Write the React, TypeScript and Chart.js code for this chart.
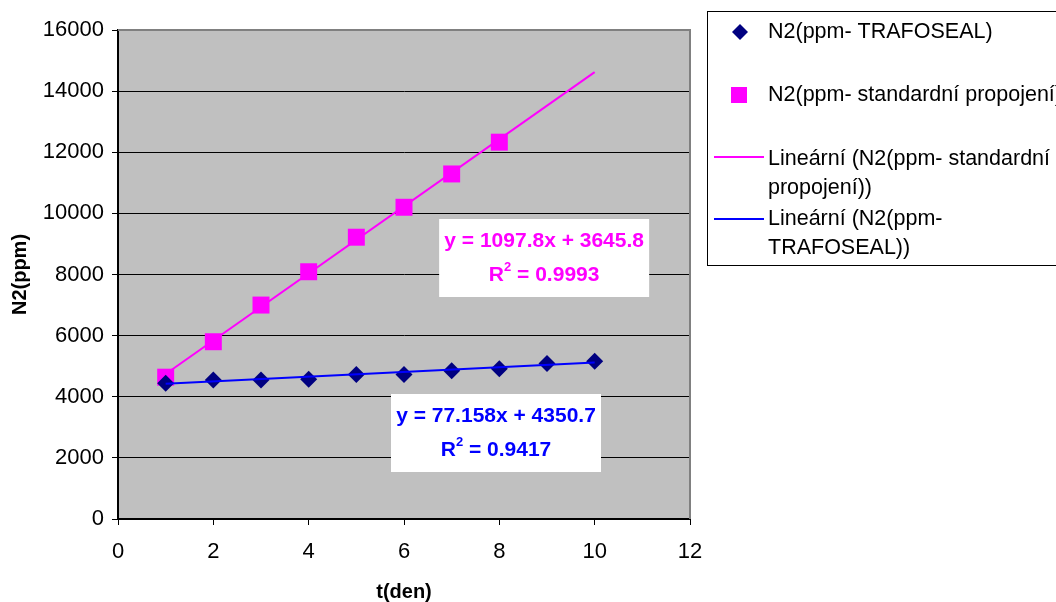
import React, { useEffect, useRef } from "react";
import { Chart, registerables } from "chart.js";

Chart.register(...registerables);

// ---- data ----
const DAYS_STD = [1, 2, 3, 4, 5, 6, 7, 8];
const N2_STD = [4640, 5800, 7000, 8090, 9220, 10200, 11290, 12330];
const DAYS_TRAFO = [1, 2, 3, 4, 5, 6, 7, 8, 9, 10];
const N2_TRAFO = [4440, 4550, 4550, 4570, 4730, 4730, 4850, 4920, 5090, 5160];

// trendlines (as displayed in the chart's equations)
const TREND_SLOPE_STD = 1097.8;
const TREND_INTERCEPT_STD = 3645.8;
const TREND_SLOPE_TRAFO = 77.158;
const TREND_INTERCEPT_TRAFO = 4350.7;
const TREND_X_RANGE = [1, 10];

const EQ_TEXT = ["y = 1097.8x + 3645.8", "y = 77.158x + 4350.7"];
const R2_TEXT = ["0.9993", "0.9417"];
// anchor of equation boxes (data coordinates: x, y)
const EQ_ANCHOR_X = [8.94, 7.93];
const EQ_ANCHOR_Y = [8540, 2814];
const EQ_COLORS = ["#ff00ff", "#0000ff"];

const LEGEND_LABELS = [
  ["N2(ppm- TRAFOSEAL)"],
  ["N2(ppm- standardní propojení)"],
  ["Lineární (N2(ppm- standardní", "propojení))"],
  ["Lineární (N2(ppm-", "TRAFOSEAL))"],
];

const X_MIN = 0, X_MAX = 12, X_STEP = 2;
const Y_MIN = 0, Y_MAX = 16000, Y_STEP = 2000;

const FONT = "'Liberation Sans', Arial, sans-serif";

const bgPlugin = {
  id: "bgPlugin",
  beforeDraw(chart: any) {
    const { ctx, chartArea } = chart;
    ctx.save();
    ctx.fillStyle = "#ffffff";
    ctx.fillRect(0, 0, chart.width, chart.height);
    ctx.fillStyle = "#c0c0c0";
    ctx.fillRect(chartArea.left, chartArea.top, chartArea.right - chartArea.left, chartArea.bottom - chartArea.top);
    ctx.restore();
  },
  afterDraw(chart: any) {
    const { ctx, chartArea } = chart;
    ctx.save();
    // gray frame top/right
    ctx.strokeStyle = "#808080";
    ctx.lineWidth = 2;
    ctx.beginPath();
    ctx.moveTo(chartArea.left, chartArea.top);
    ctx.lineTo(chartArea.right, chartArea.top);
    ctx.lineTo(chartArea.right, chartArea.bottom);
    ctx.stroke();

    // equation boxes
    const xs = chart.scales.x, ys = chart.scales.y;
    for (let i = 0; i < EQ_TEXT.length; i++) {
      const cx = xs.getPixelForValue(EQ_ANCHOR_X[i]);
      const cy = ys.getPixelForValue(EQ_ANCHOR_Y[i]);
      const w = 210, h = 78;
      ctx.fillStyle = "#ffffff";
      ctx.fillRect(cx - w / 2, cy - h / 2, w, h);
      ctx.fillStyle = EQ_COLORS[i];
      ctx.textBaseline = "middle";
      ctx.textAlign = "center";
      ctx.font = `bold 21px ${FONT}`;
      ctx.fillText(EQ_TEXT[i], cx, cy - 17);
      // R^2 line
      const big = `bold 21px ${FONT}`;
      const small = `bold 13px ${FONT}`;
      ctx.textAlign = "left";
      ctx.font = big;
      const wR = ctx.measureText("R").width;
      const rest = " = " + R2_TEXT[i];
      const wRest = ctx.measureText(rest).width;
      ctx.font = small;
      const w2 = ctx.measureText("2").width;
      const total = wR + w2 + wRest;
      const x0 = cx - total / 2;
      const y2 = cy + 17;
      ctx.font = big;
      ctx.fillText("R", x0, y2);
      ctx.font = small;
      ctx.fillText("2", x0 + wR, y2 - 8);
      ctx.font = big;
      ctx.fillText(rest, x0 + wR + w2, y2);
    }

    // legend
    const lx = 707.5, ly = 11.5;
    ctx.strokeStyle = "#000000";
    ctx.lineWidth = 1;
    ctx.strokeRect(lx, ly, 400, 254);
    ctx.font = `21.5px ${FONT}`;
    ctx.fillStyle = "#000000";
    ctx.textAlign = "left";
    ctx.textBaseline = "middle";
    const textX = 768;
    // item 1: diamond
    ctx.fillStyle = "#000080";
    ctx.beginPath();
    ctx.moveTo(740, 32 - 8);
    ctx.lineTo(748, 32);
    ctx.lineTo(740, 32 + 8);
    ctx.lineTo(732, 32);
    ctx.closePath();
    ctx.fill();
    ctx.fillStyle = "#000";
    ctx.fillText(LEGEND_LABELS[0][0], textX, 32);
    // item 2: square
    ctx.fillStyle = "#ff00ff";
    ctx.fillRect(731, 87, 16, 16);
    ctx.fillStyle = "#000";
    ctx.fillText(LEGEND_LABELS[1][0], textX, 95);
    // item 3: pink line
    ctx.strokeStyle = "#ff00ff";
    ctx.lineWidth = 2;
    ctx.beginPath();
    ctx.moveTo(714, 157);
    ctx.lineTo(764, 157);
    ctx.stroke();
    ctx.fillText(LEGEND_LABELS[2][0], textX, 159);
    ctx.fillText(LEGEND_LABELS[2][1], textX, 188);
    // item 4: blue line
    ctx.strokeStyle = "#0000ff";
    ctx.beginPath();
    ctx.moveTo(714, 219);
    ctx.lineTo(764, 219);
    ctx.stroke();
    ctx.fillText(LEGEND_LABELS[3][0], textX, 219);
    ctx.fillText(LEGEND_LABELS[3][1], textX, 248);
    ctx.restore();
  },
};

export default function App() {
  const ref = useRef<HTMLCanvasElement | null>(null);

  useEffect(() => {
    if (!ref.current) return;
    const trend = (m: number, b: number) => TREND_X_RANGE.map((x) => ({ x, y: m * x + b }));
    const chart = new Chart(ref.current, {
      type: "scatter",
      data: {
        datasets: [
          {
            type: "line",
            label: "Lineární (N2(ppm- standardní propojení))",
            data: trend(TREND_SLOPE_STD, TREND_INTERCEPT_STD),
            borderColor: "#ff00ff",
            borderWidth: 2,
            pointRadius: 0,
            fill: false,
            order: 0,
          } as any,
          {
            type: "line",
            label: "Lineární (N2(ppm- TRAFOSEAL))",
            data: trend(TREND_SLOPE_TRAFO, TREND_INTERCEPT_TRAFO),
            borderColor: "#0000ff",
            borderWidth: 2,
            pointRadius: 0,
            fill: false,
            order: 0,
          } as any,
          {
            label: "N2(ppm- TRAFOSEAL)",
            data: DAYS_TRAFO.map((x, i) => ({ x, y: N2_TRAFO[i] })),
            pointStyle: "rectRot",
            pointRadius: 8.5,
            backgroundColor: "#000080",
            borderColor: "#000080",
            borderWidth: 0,
            showLine: false,
            order: 1,
          },
          {
            label: "N2(ppm- standardní propojení)",
            data: DAYS_STD.map((x, i) => ({ x, y: N2_STD[i] })),
            pointStyle: "rect",
            pointRadius: 12,
            backgroundColor: "#ff00ff",
            borderColor: "#ff00ff",
            borderWidth: 0,
            showLine: false,
            order: 1,
          },
        ],
      },
      options: {
        responsive: false,
        animation: false,
        devicePixelRatio: 1,
        layout: { padding: { left: 0, top: 30, right: 366, bottom: 0 } },
        plugins: { legend: { display: false }, tooltip: { enabled: false } },
        scales: {
          x: {
            type: "linear",
            min: X_MIN,
            max: X_MAX,
            afterFit: (s: any) => { s.height = 83; },
            ticks: {
              stepSize: X_STEP,
              color: "#000",
              font: { family: FONT, size: 22 },
              padding: 14,
              maxRotation: 0,
            },
            grid: { drawOnChartArea: false, drawTicks: true, tickLength: 6, color: "#000" },
            border: { color: "#000", width: 2 },
            title: {
              display: true,
              text: "t(den)",
              color: "#000",
              font: { family: FONT, size: 20, weight: "bold", lineHeight: 1 },
              padding: 0,
            },
          },
          y: {
            type: "linear",
            min: Y_MIN,
            max: Y_MAX,
            afterFit: (s: any) => { s.width = 118; },
            ticks: {
              stepSize: Y_STEP,
              color: "#000",
              font: { family: FONT, size: 22 },
              padding: 8,
              callback: (v: any) => String(v),
            },
            grid: { color: "#000", lineWidth: 1, tickLength: 6 },
            border: { color: "#000", width: 2 },
            title: {
              display: true,
              text: "N2(ppm)",
              color: "#000",
              font: { family: FONT, size: 20, weight: "bold" },
              padding: { top: 8, bottom: 0 },
            },
          },
        },
      },
      plugins: [bgPlugin],
    });
    return () => chart.destroy();
  }, []);

  return (
    <div style={{ position: "fixed", left: 0, top: 0, width: 1056, height: 602, background: "#fff" }}>
      <canvas ref={ref} width={1056} height={602} style={{ display: "block" }} />
    </div>
  );
}
